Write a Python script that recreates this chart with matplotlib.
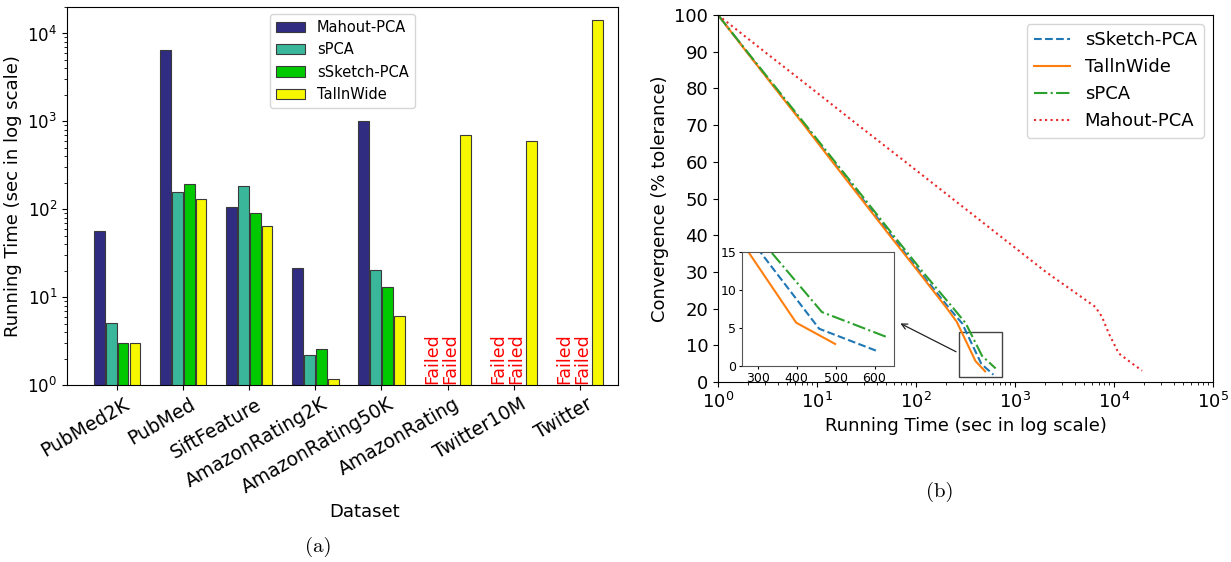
import numpy as np
import matplotlib
matplotlib.use("Agg")
import matplotlib.pyplot as plt
from matplotlib.patches import Rectangle
from matplotlib.transforms import ScaledTranslation

# ---------------- data: panel (a) ----------------
datasets = ['PubMed2K', 'PubMed', 'SiftFeature', 'AmazonRating2K',
            'AmazonRating50K', 'AmazonRating', 'Twitter10M', 'Twitter']
methods_a = ['Mahout-PCA', 'sPCA', 'sSketch-PCA', 'TallnWide']
mahout_pca = [56.7, 6400, 106, 21.2, 1010, np.nan, np.nan, np.nan]
spca = [5.1, 157, 186, 2.18, 20.3, np.nan, np.nan, np.nan]
ssketch_pca = [3.02, 192, 91, 2.59, 12.9, np.nan, np.nan, np.nan]
tallnwide = [3.02, 132, 65, 1.16, 6.08, 692, 593, 14400]
failed_sets = ['AmazonRating', 'Twitter10M', 'Twitter']
failed_text = 'Failed\nFailed'

# ---------------- data: panel (b) ----------------
tol_sketch = [100, 90, 80, 70, 60, 50, 40, 30, 20, 16, 4.9, 2.0]
time_sketch = [1.0, 1.95, 3.8, 7.5, 14.6, 28.6, 56, 110, 218, 292, 458, 605]
tol_tall = [100, 90, 80, 70, 60, 50, 40, 30, 20, 16.4, 5.7, 2.9]
time_tall = [1.0, 1.94, 3.78, 7.4, 14.3, 27.8, 54, 106, 206, 258, 399, 499]
tol_spca = [100, 90, 80, 70, 60, 50, 40, 30, 20, 16, 7.1, 3.7]
time_spca = [1.0, 1.97, 3.9, 7.7, 15.2, 30, 59, 117, 240, 318, 465, 637]
tol_mahout = [100, 90, 80, 70, 60, 50, 40, 30, 20.5, 17.8, 13.3, 7.8, 5.1, 3.1]
time_mahout = [1.0, 2.95, 8.8, 26, 78, 232, 690, 2050, 6460, 7550, 8830, 11170, 15150, 19200]

bar_colors = ['#302c82', '#3ab79b', '#00c900', '#f7f700']

fig = plt.figure(figsize=(12.31, 5.62), dpi=100)

# ---------------- panel (a) ----------------
axa = fig.add_axes([67/1231, 1-385/562, 551/1231, 378/562])
x = np.arange(len(datasets))
series = [mahout_pca, spca, ssketch_pca, tallnwide]
for i, (name, vals, c) in enumerate(zip(methods_a, series, bar_colors)):
    axa.bar(x + (i - 1.5) * 0.18, vals, width=0.16, color=c,
            edgecolor='#3a3a3a', linewidth=0.8, label=name)
axa.set_yscale('log')
axa.set_ylim(1, 2e4)
axa.set_xlim(-0.76, 7.58)
axa.set_xticks(x)
axa.set_xticklabels(datasets, rotation=30, ha='right', rotation_mode='anchor',
                    fontsize=13.5)
shift = ScaledTranslation(6/100, 0, fig.dpi_scale_trans)
for lab in axa.get_xticklabels():
    lab.set_transform(lab.get_transform() + shift)
axa.tick_params(axis='y', labelsize=12)
for name in failed_sets:
    j = datasets.index(name)
    axa.text(j - 0.1, 1.03, failed_text, rotation=90, color='red',
             fontsize=12.5, linespacing=0.98, ha='center', va='bottom')
axa.set_ylabel('Running Time (sec in log scale)', fontsize=13)
axa.set_xlabel('Dataset', fontsize=13)
axa.xaxis.label.set_x(0.54)
axa.legend(loc='upper center', fontsize=10.5)

# ---------------- panel (b) ----------------
axb = fig.add_axes([718/1231, 1-382/562, 495/1231, 367/562])
axb.plot(time_sketch, tol_sketch, '--', color='#1f77b4', lw=1.5, label='sSketch-PCA')
axb.plot(time_tall, tol_tall, '-', color='#ff7f0e', lw=1.5, label='TallnWide')
axb.plot(time_spca, tol_spca, '-.', color='#2ca02c', lw=1.5, label='sPCA')
axb.plot(time_mahout, tol_mahout, ':', color='#e8282a', lw=1.5, label='Mahout-PCA')
axb.set_xscale('log')
axb.set_xlim(1, 1e5)
axb.set_ylim(0, 100)
axb.set_yticks(np.arange(0, 101, 10))
axb.tick_params(labelsize=13)
axb.set_xlabel('Running Time (sec in log scale)', fontsize=13)
axb.set_ylabel('Convergence (% tolerance)', fontsize=13)
axb.legend(loc='upper right', fontsize=13)

axb.add_patch(Rectangle((269, 1.3), 745 - 269, 13.6 - 1.3, fill=False,
                        edgecolor='#444444', lw=1.0))
axb.annotate('', xy=(65.6, 16.3), xytext=(269, 7.9),
             arrowprops=dict(arrowstyle='->', color='#222222', lw=0.9))

axi = fig.add_axes([742/1231, 1-366/562, 152/1231, 114/562])
axi.plot(time_sketch, tol_sketch, '--', color='#1f77b4', lw=1.5)
axi.plot(time_tall, tol_tall, '-', color='#ff7f0e', lw=1.5)
axi.plot(time_spca, tol_spca, '-.', color='#2ca02c', lw=1.5)
axi.set_xlim(260, 650)
axi.set_ylim(0, 15)
axi.set_xticks([300, 400, 500, 600])
axi.set_yticks([0, 5, 10, 15])
axi.tick_params(labelsize=9, length=2.5, pad=1.5)
for s in axi.spines.values():
    s.set_edgecolor('#555555')

fig.text(318/1231, 1-547/562, '(a)', fontsize=15, family='cmr10', ha='center', va='center')
fig.text(940/1231, 1-492/562, '(b)', fontsize=15, family='cmr10', ha='center', va='center')

fig.savefig('out.png', dpi=100)
